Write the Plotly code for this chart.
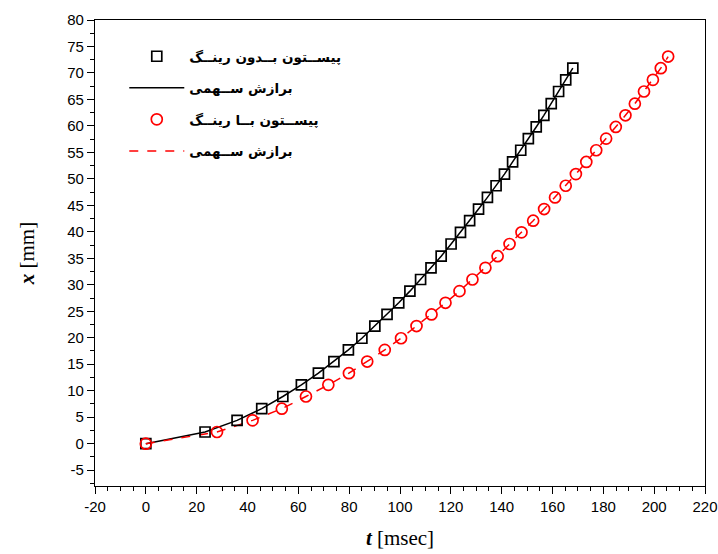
import plotly.graph_objects as go

# Piston without ring (black squares)
t_no_ring = [0, 23.3, 35.9, 45.6, 53.9, 61.2, 67.9, 74.0, 79.7, 85.0, 90.1, 94.9, 99.5,
             103.9, 108.1, 112.2, 116.2, 120.1, 123.8, 127.4, 130.9, 134.4, 137.8, 141.1,
             144.3, 147.5, 150.5, 153.6, 156.6, 159.5, 162.4, 165.2, 168.0]
x_no_ring = [0, 2.2, 4.4, 6.6, 8.9, 11.1, 13.3, 15.5, 17.7, 19.9, 22.2, 24.4, 26.6, 28.8,
             31.0, 33.2, 35.4, 37.7, 39.9, 42.1, 44.3, 46.5, 48.7, 50.9, 53.2, 55.4, 57.6,
             59.8, 62.0, 64.2, 66.5, 68.7, 70.9]

# Piston with ring (red circles)
t_ring = [0, 28.0, 42.0, 53.5, 63.0, 71.8, 79.9, 87.1, 94.0, 100.4, 106.5, 112.4, 117.9,
          123.4, 128.5, 133.6, 138.4, 143.1, 147.8, 152.4, 156.7, 161.0, 165.2, 169.2,
          173.3, 177.2, 181.1, 184.9, 188.7, 192.4, 196.0, 199.5, 202.6, 205.5]
x_ring = [0, 2.2, 4.4, 6.6, 8.9, 11.1, 13.3, 15.5, 17.7, 19.9, 22.2, 24.4, 26.6, 28.8,
          31.0, 33.2, 35.4, 37.7, 39.9, 42.1, 44.3, 46.5, 48.7, 50.9, 53.2, 55.4, 57.6,
          59.8, 62.0, 64.2, 66.5, 68.7, 70.9, 73.1]

# Tick labels
x_tick_vals = [-20, 0, 20, 40, 60, 80, 100, 120, 140, 160, 180, 200, 220]
x_tick_text = ["-20", "0", "20", "40", "60", "80", "100", "120", "140", "160", "180", "200", "220"]
y_tick_vals = [-5, 0, 5, 10, 15, 20, 25, 30, 35, 40, 45, 50, 55, 60, 65, 70, 75, 80]
y_tick_text = ["-5", "0", "5", "10", "15", "20", "25", "30", "35", "40", "45", "50", "55",
               "60", "65", "70", "75", "80"]

legend_names = ["پیســتون بــدون رینــگ", "برازش ســهمی",
                "پیســتون بــا رینــگ", "برازش ســهمی"]

fig = go.Figure()
fig.add_trace(go.Scatter(x=t_no_ring, y=x_no_ring, mode="lines",
                         line=dict(color="black", width=1.5),
                         name=legend_names[1], legendgroup="b", legendrank=2))
fig.add_trace(go.Scatter(x=t_ring, y=x_ring, mode="lines",
                         line=dict(color="#ff0000", width=1.5, dash="dash"),
                         name=legend_names[3], legendgroup="d", legendrank=4))
fig.add_trace(go.Scatter(x=t_no_ring, y=x_no_ring, mode="markers",
                         marker=dict(symbol="square-open", size=10, color="black",
                                     line=dict(width=1.7, color="black")),
                         name=legend_names[0], legendgroup="a", legendrank=1))
fig.add_trace(go.Scatter(x=t_ring, y=x_ring, mode="markers",
                         marker=dict(symbol="circle-open", size=11, color="#ff0000",
                                     line=dict(width=1.7, color="#ff0000")),
                         name=legend_names[2], legendgroup="c", legendrank=3))

axis_common = dict(showline=True, linecolor="black", linewidth=1.3, mirror=True,
                   ticks="outside", ticklen=7, tickwidth=1.2, tickcolor="black",
                   showgrid=False, zeroline=False, automargin=False,
                   tickfont=dict(family="Liberation Sans, Arial", size=15, color="black"))

fig.update_xaxes(range=[-20, 220], tickvals=x_tick_vals, ticktext=x_tick_text,
                 minor=dict(dtick=5, tick0=0, ticks="outside", ticklen=4, tickwidth=1.2,
                            tickcolor="black"),
                 title=dict(text="<b><i>t</i></b> [msec]", standoff=16,
                            font=dict(family="Liberation Serif, Times New Roman", size=21, color="black")),
                 **axis_common)
fig.update_yaxes(range=[-8, 80], tickvals=y_tick_vals, ticktext=y_tick_text,
                 minor=dict(dtick=2.5, tick0=0, ticks="outside", ticklen=4, tickwidth=1.2,
                            tickcolor="black"),
                 title=dict(text="<b><i>x</i></b> [mm]", standoff=26,
                            font=dict(family="Liberation Serif, Times New Roman", size=21, color="black")),
                 **axis_common)

fig.update_layout(
    width=718, height=554,
    margin=dict(l=95, r=13, t=20, b=68),
    plot_bgcolor="white", paper_bgcolor="white",
    legend=dict(x=0.048, y=0.955, xanchor="left", yanchor="top",
                bgcolor="rgba(0,0,0,0)", tracegroupgap=11, traceorder="grouped",
                font=dict(family="DejaVu Sans", size=13.5, color="black", weight="bold"),
                itemwidth=55),
)

fig.write_html("out.html")
